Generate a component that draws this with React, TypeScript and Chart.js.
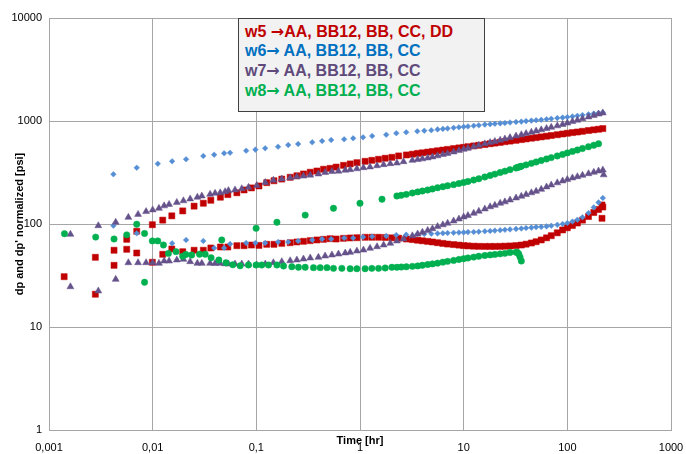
import React, { useEffect, useRef } from 'react';
import { Chart, registerables } from 'chart.js';

Chart.register(...registerables);

const FONT = "'Liberation Sans', Arial, sans-serif";

const X_TICKS = [0.001, 0.01, 0.1, 1, 10, 100, 1000];
const X_TICK_LABELS = ['0,001', '0,01', '0,1', '1', '10', '100', '1000'];
const Y_TICKS = [1, 10, 100, 1000, 10000];
const Y_TICK_LABELS = ['1', '10', '100', '1000', '10000'];

const LEGEND_LINES = [
  { well: 'w5 ', arrow: '\u2192', rest: 'AA, BB12, BB, CC, DD', color: '#C00000' },
  { well: 'w6', arrow: '\u2192', rest: ' AA, BB12, BB, CC', color: '#0070C0' },
  { well: 'w7', arrow: '\u2192', rest: ' AA, BB12, BB, CC', color: '#604A7B' },
  { well: 'w8', arrow: '\u2192', rest: ' AA, BB12, BB, CC', color: '#00B050' },
];

// ---- w5 (red squares) ----
const w5Time = [
  0.0014, 0.0028, 0.00424, 0.00562, 0.00702, 0.00993, 0.0125, 0.0153, 0.0195, 0.0251,
  0.0308, 0.0364, 0.045, 0.0531, 0.0649, 0.0762, 0.0897, 0.106, 0.126, 0.148,
  0.176, 0.212, 0.246, 0.285, 0.331, 0.384, 0.445, 0.515, 0.589, 0.693,
  0.804, 0.933, 1.12, 1.3, 1.51, 1.75, 2.03, 2.36,
  2.8, 3.2, 3.6, 4, 4.5, 5, 5.6, 6.3, 7, 8, 9, 10, 11, 12.5, 14, 16, 18, 20, 22.5, 25,
  28, 32, 36, 40, 45, 50, 56, 63, 70, 80, 90, 100, 112, 125, 140, 160, 180, 200, 216, 216, 220,
];
const w5Dp = [
  30.8, 47.5, 55.6, 71.0, 85.0, 98.4, 109, 120, 134, 149,
  159, 170, 182, 193, 201, 214, 224, 234, 252, 263,
  273, 284, 294, 306, 318, 327, 340, 347, 357, 371,
  383, 394, 406, 415, 425, 435, 444, 458,
  468, 476, 485, 491, 499, 506, 514, 522, 530, 540, 548, 555, 563, 573, 581, 591, 602, 610, 620, 630,
  638, 649, 660, 670, 681, 690, 701, 712, 723, 736, 748, 760, 772, 782, 794, 809, 821, 832, null, null, 844,
];
const w5Deriv = [
  null, 20.8, 39.7, 56.8, 52.3, 42.5, 50.8, 57.2, 53.8, 55.6,
  55.6, 58.5, 59.8, 59.8, 61.6, 61.6, 62.5, 62.0, 63.5, 63.5,
  64.9, 65.8, 66.9, 67.9, 68.9, 70.0, 71.0, 72.0, 71.5, 72.6,
  73.2, 73.6, 74.3, 74.3, 74.3, 74.0, 73.4, 72.8,
  71.5, 70.6, 69.6, 68.7, 67.8, 66.9, 65.8, 64.8, 63.9, 63.1, 62.4, 61.7, 61.3, 60.9, 60.7, 60.6, 60.6, 60.6, 60.7, 60.9,
  61.2, 61.7, 62.5, 63.7, 65.4, 67.3, 70.0, 73.4, 77.0, 82.1, 87.5, 91.9, 96.7, 102.2, 109, 118.2, 129.3, 138.3, 113.6, 153, 146.2,
];

// ---- w6 (blue diamonds) ----
const w6Time = [
  0.00418, 0.00702, 0.0112, 0.0154, 0.021, 0.0308, 0.0392, 0.0489, 0.0558, 0.0798,
  0.098, 0.1216, 0.162, 0.203, 0.253, 0.346, 0.431, 0.527, 0.703, 0.859,
  1.07, 1.31, 1.79, 2.24, 2.79, 3.57, 4.17, 4.87,
  5.6, 6.3, 7, 8, 9, 10, 11, 12.5, 14, 16, 18, 20, 22.5, 25, 28, 32, 36, 40, 45, 50,
  56, 63, 70, 80, 90, 100, 112, 125, 140, 160, 180, 200, 220,
];
const w6Dp = [
  304, 352, 385, 406, 425, 457, 471, 486, 492, 515,
  527, 543, 563, 585, 598, 621, 639, 654, 664, 679,
  694, 715, 736, 760, 777, 794, 805, 812,
  829, 838, 847, 859, 869, 879, 886, 898, 908, 923, 931, 939, 948, 956, 967, 978, 987, 998, 1009, 1018,
  1029, 1041, 1053, 1067, 1079, 1091, 1106, 1123, 1141, 1161, 1180, 1196, 1209,
];
const w6Deriv = [
  96.3, 81.2, null, 64.9, 70.0, 68.4, 58.5, 58.5, 64.0, 65.4,
  65.4, 65.4, 66.9, 66.9, 68.4, 70.0, 71.5, 71.5, 73.2, 73.2,
  74.8, 75.6, 76.5, 78.2, 78.8, 79.5, 80.0, 80.5,
  81.0, 81.4, 81.8, 82.2, 82.6, 82.9, 83.4, 83.6, 84.2, 85.0, 85.5, 86.3, 87.1, 87.8, 88.6, 89.6, 90.4, 91.3, 92.3, 93.3,
  93.8, 94.8, 96.2, 98.2, 100.0, 102.2, 105.6, 110.0, 116.3, 127.9, 145, 162, 179,
];

// ---- w7 (purple triangles) ----
const w7Time = [
  0.00161, 0.00299, 0.0044, 0.00583, 0.00723, 0.00864, 0.01, 0.0115, 0.0129, 0.0144,
  0.0171, 0.0198, 0.023, 0.027, 0.0298, 0.0358, 0.04, 0.0448, 0.05, 0.0538,
  0.0623, 0.0724, 0.084,
  0.101, 0.122, 0.146, 0.176, 0.212, 0.246, 0.285, 0.331, 0.397, 0.461,
  0.536, 0.62, 0.72, 0.804, 0.933, 1.08, 1.25, 1.46, 1.69, 1.96, 2.27, 2.63,
  3.2, 3.6, 4, 4.5, 5, 5.6, 6.3, 7, 8, 9, 10, 11, 12.5, 14, 16, 18, 20, 22.5, 25,
  28, 32, 36, 40, 45, 50, 56, 63, 70, 80, 90, 100, 112, 125, 140, 160, 180, 200, 220, 224,
];
const w7Dp = [
  79.4, 96.3, 104, 116, 124, 132, 137, 142, 150, 155,
  162, 168, 175, 182, 187, 194, 199, 201, 206, 211,
  214, 220, 227,
  237, 253, 266, 274, 281, 287, 292, 298, 306, 316,
  323, 326, 333, 337, 344, 352, 358, 368, 377, 385, 391, 403,
  415, 422, 429, 438, 448, 459, 472, 484, 500, 516, 531, 544, 563, 580, 600, 617, 634, 652, 670,
  690, 714, 735, 755, 778, 798, 821, 846, 869, 898, 925, 954, 987, 1018, 1053, 1094, 1131, 1167, 1198, null,
];
const w7Deriv = [
  24.6, 22.4, 29.0, 42.1, 42.1, 42.1, 42.1, 41.5, 43.7, 43.7,
  44.7, 45.4, 43.1, 41.5, 41.5, 41.5, 41.3, 41.5, 41.1, 40.9,
  40.9, 40.9, 40.9,
  40.0, 40.9, 42.1, 43.1, 44.0, 44.7, 45.7, 46.8, 47.5, 48.9,
  50.0, 51.1, 52.3, 53.1, 54.7, 55.9, 58.1, 60.2, 62.5, 64.9, 68.4, 71.5,
  76.8, 80.0, 83.1, 86.7, 90.0, 94.4, 98.2, 101.8, 106.9, 111.8, 117, 121, 127, 133, 140, 147, 152, 159, 164,
  171, 179, 186, 193, 201, 208, 217, 229, 239, 251, 262, 270, 280, 288, 297, 308, 318, 327, 334, 300,
];

// ---- w8 (green circles) ----
const w8Time = [
  0.00141, 0.00282, 0.00424, 0.00562, 0.00702, 0.00835, 0.00993, 0.0112, 0.0127, 0.0142,
  0.0168, 0.0195, 0.0209, 0.0238, 0.0283, 0.0321, 0.0366, 0.0435, 0.0464, 0.051,
  0.0593, 0.0698, 0.084, 0.0995, 0.113, 0.131, 0.158, 0.183, 0.22, 0.255,
  0.296, 0.356, 0.413, 0.48, 0.555, 0.668, 0.804, 0.933, 1.0, 1.12,
  1.3, 1.51, 1.63, 1.75, 2.03, 2.27,
  2.5, 2.8, 3.2, 3.6, 4, 4.5, 5, 5.6, 6.3, 7, 8, 9, 10, 11, 12.5, 14, 16, 18, 20, 22.5,
  25, 28, 32, 33, 34, 35, 36, 40, 45, 50, 56, 63, 70, 80, 90, 100, 112, 125, 140, 160, 180, 200,
];
const w8Dp = [
  null, null, null, null, null, 27.2, null, null, null, null,
  null, null, null, null, null, null, null, null, 70.0, null,
  null, null, null, 90.8, null, null, 104, null, null, null,
  122, null, null, null, 142, null, null, null, 159, null,
  null, null, 174, null, null, 187,
  190, 194, 200, 205, 209, 214, 219, 225, 230, 235, 241, 247, 253, 259, 267, 275, 286, 296, 305, 316,
  326, 337, 350, 354, 357, 360, 364, 375, 388, 400, 413, 428, 441, 458, 474, 490, 507, 523, 541, 562, 582, 601,
];
const w8Deriv = [
  80.5, 74.6, 71.5, 78.5, 99.4, 81.0, 68.5, 68.5, 62.5, 51.8,
  53.9, 48.6, 50.6, 50.0, 50.9, 50.9, 47.0, 44.7, null, 42.0,
  40.2, 39.3, 40.0, 40.0, 40.0, 40.0, 40.0, 39.1, 38.5, 38.0,
  38.0, 37.7, 37.7, 37.7, 37.1, 37.1, 36.8, 36.8, null, 36.8,
  37.1, 37.1, null, 37.4, 38.0, 38.0,
  38.2, 38.4, 38.8, 39.2, 39.7, 40.4, 41.0, 41.7, 42.6, 43.4, 44.3, 45.2, 46.0, 46.8, 47.7, 48.6, 49.4, 50.1, 50.7, 51.3,
  51.9, 52.8, 53.2, 53.0, 51.1, 47.7, 43.7, null, null, null, null, null, null, null, null, null, null, null, null, null, null, null,
];

const RED = '#C00000';
const BLUE = '#558ED5';
const PURPLE = '#65528A';
const GREEN = '#00B050';
const GRID = '#A6A6A6';

function pts(t: number[], v: (number | null)[]) {
  const out: { x: number; y: number }[] = [];
  t.forEach((x, i) => {
    const y = v[i];
    if (y !== null && y !== undefined) out.push({ x, y });
  });
  return out;
}

function ds(label: string, t: number[], v: (number | null)[], color: string, style: any, radius: number, order: number) {
  return {
    label,
    data: pts(t, v),
    pointStyle: style,
    pointRadius: radius,
    pointBackgroundColor: color,
    pointBorderColor: color,
    pointBorderWidth: 0.5,
    backgroundColor: color,
    borderColor: color,
    showLine: false,
    order,
  };
}

export default function App() {
  const canvasRef = useRef<HTMLCanvasElement | null>(null);

  useEffect(() => {
    const canvas = canvasRef.current;
    if (!canvas) return;
    const chart = new Chart(canvas, {
      type: 'scatter',
      data: {
        datasets: [
          ds('w5 dp', w5Time, w5Dp, RED, 'rect', 4.3, 8),
          ds("w5 dp'", w5Time, w5Deriv, RED, 'rect', 4.3, 7),
          ds('w6 dp', w6Time, w6Dp, BLUE, 'rectRot', 2.8, 6),
          ds("w6 dp'", w6Time, w6Deriv, BLUE, 'rectRot', 2.8, 5),
          ds('w7 dp', w7Time, w7Dp, PURPLE, 'triangle', 4, 4),
          ds("w7 dp'", w7Time, w7Deriv, PURPLE, 'triangle', 4, 3),
          ds('w8 dp', w8Time, w8Dp, GREEN, 'circle', 3.2, 2),
          ds("w8 dp'", w8Time, w8Deriv, GREEN, 'circle', 3.2, 1),
        ],
      },
      options: {
        animation: false,
        responsive: false,
        devicePixelRatio: 1,
        layout: { padding: { top: 18, right: 15, bottom: 0, left: 0 } },
        plugins: {
          legend: { display: false },
          tooltip: { enabled: false },
        },
        scales: {
          x: {
            type: 'logarithmic',
            min: 0.001,
            max: 1000,
            afterBuildTicks: (s: any) => {
              s.ticks = X_TICKS.map((v) => ({ value: v }));
            },
            afterFit: (s: any) => {
              s.height = 24;
              s.paddingLeft = 0;
              s.paddingRight = 0;
            },
            ticks: {
              autoSkip: false,
              maxRotation: 0,
              padding: 11,
              color: '#000',
              font: { family: FONT, size: 11 },
              callback: (_v: any, i: number) => X_TICK_LABELS[i],
            },
            grid: { color: GRID, lineWidth: 1, drawTicks: false },
            border: { color: GRID, width: 1 },
            title: {
              display: true,
              text: 'Time [hr]',
              color: '#000',
              font: { family: FONT, size: 11, weight: 'bold' },
              padding: { top: 0, bottom: 6 },
            },
          },
          y: {
            type: 'logarithmic',
            min: 1,
            max: 10000,
            afterBuildTicks: (s: any) => {
              s.ticks = Y_TICKS.map((v) => ({ value: v }));
            },
            afterFit: (s: any) => {
              s.width = 49;
              s.paddingTop = 0;
              s.paddingBottom = 0;
            },
            ticks: {
              autoSkip: false,
              padding: 7,
              color: '#000',
              font: { family: FONT, size: 11 },
              callback: (_v: any, i: number) => Y_TICK_LABELS[i],
            },
            grid: { color: GRID, lineWidth: 1, drawTicks: false },
            border: { color: GRID, width: 1 },
            title: {
              display: true,
              text: "dp and dp' normalized [psi]",
              color: '#000',
              font: { family: FONT, size: 11, weight: 'bold' },
              padding: { top: 13.4, bottom: 0 },
            },
          },
        },
      } as any,
    });
    return () => chart.destroy();
  }, []);

  return (
    <div style={{ position: 'fixed', left: 0, top: 0, width: 686, height: 454, background: '#fff', overflow: 'hidden' }}>
      <canvas ref={canvasRef} width={686} height={454} style={{ display: 'block', width: 686, height: 454 }} />
      <div
        style={{
          position: 'absolute',
          left: 238,
          top: 18,
          width: 239,
          height: 89,
          background: '#F2F2F2',
          border: '1px solid #404040',
          paddingLeft: 6,
          paddingTop: 2.6,
          boxSizing: 'content-box',
          fontFamily: FONT,
          fontWeight: 'bold',
          fontSize: 16,
          lineHeight: '19.7px',
          whiteSpace: 'pre',
          overflow: 'hidden',
        }}
      >
        {LEGEND_LINES.map((l) => (
          <div key={l.well} style={{ color: l.color }}>
            {l.well}
            <span style={{ fontFamily: "'DejaVu Sans', sans-serif", fontWeight: 'bold' }}>{l.arrow}</span>
            {l.rest}
          </div>
        ))}
      </div>
    </div>
  );
}
